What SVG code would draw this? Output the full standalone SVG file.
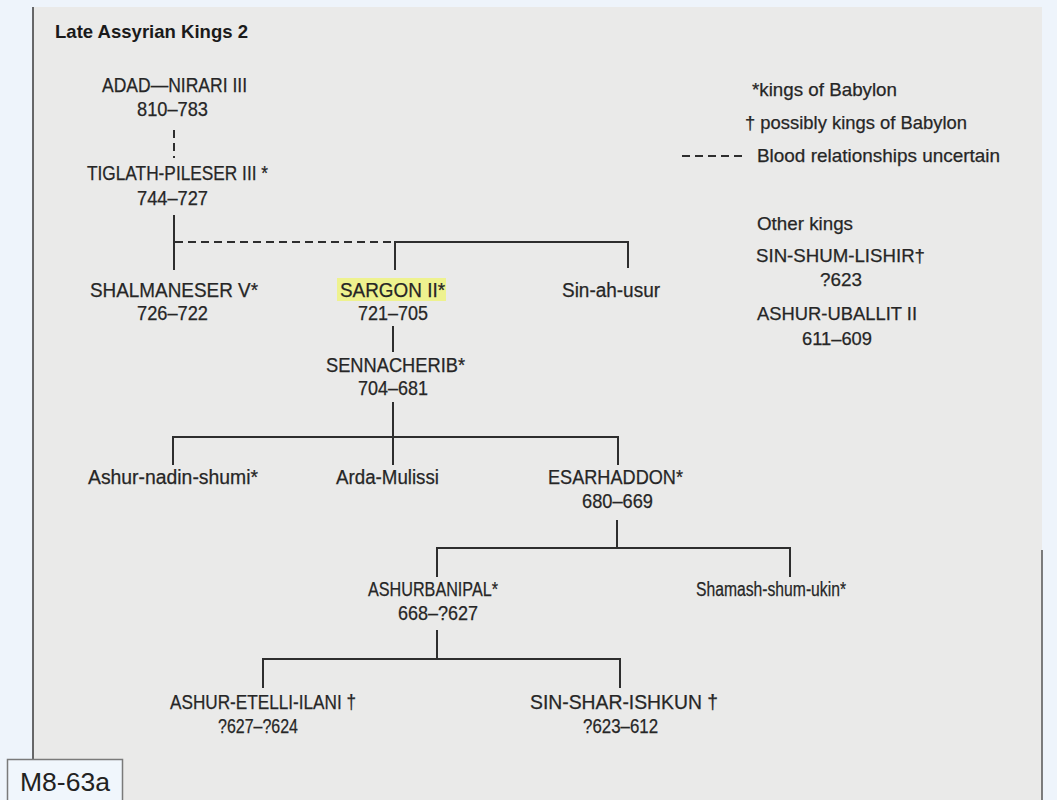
<svg xmlns="http://www.w3.org/2000/svg" width="1057" height="800" viewBox="0 0 1057 800">
  <style>
    .t { font-family: "Liberation Sans", Arial, sans-serif; font-size: 20px; fill: #262626; stroke: #262626; stroke-width: 0.25; }
    .lg { font-family: "Liberation Sans", Arial, sans-serif; font-size: 19px; fill: #262626; stroke: #262626; stroke-width: 0.25; }
    .title { font-family: "Liberation Sans", Arial, sans-serif; font-size: 19px; font-weight: bold; fill: #1a1a1a; }
    .ln { stroke: #2e2e2e; stroke-width: 2; fill: none; }
    .dash { stroke: #2e2e2e; stroke-width: 2; fill: none; stroke-dasharray: 8 5; }
  </style>
  <!-- background -->
  <rect x="0" y="0" width="1057" height="800" fill="#eef4fb"/>
  <rect x="33" y="7" width="1009" height="793" fill="#eaeae9"/>
  <line x1="33" y1="7" x2="33" y2="800" stroke="#3a3a3a" stroke-width="1.5"/>
  <line x1="1042" y1="550" x2="1042" y2="800" stroke="#555" stroke-width="1.5"/>

  <text class="title" x="55" y="38" textLength="193" lengthAdjust="spacingAndGlyphs">Late Assyrian Kings 2</text>

  <!-- connectors -->
  <g id="connectors">
    <line class="dash" x1="174" y1="130" x2="174" y2="158" stroke-dasharray="5 4"/>
    <line class="ln" x1="174" y1="215" x2="174" y2="270"/>
    <line class="dash" x1="175" y1="242" x2="395" y2="242"/>
    <polyline class="ln" points="395,270 395,242 628,242 628,268"/>
    <line class="ln" x1="393" y1="326" x2="393" y2="352"/>
    <line class="ln" x1="393" y1="402" x2="393" y2="465"/>
    <polyline class="ln" points="173,465 173,437 618,437 618,465"/>
    <line class="ln" x1="617" y1="520" x2="617" y2="548"/>
    <polyline class="ln" points="437,577 437,548 790,548 790,577"/>
    <line class="ln" x1="437" y1="630" x2="437" y2="659"/>
    <polyline class="ln" points="263,688 263,659 620,659 620,688"/>
  </g>

  <g id="adad-nirari">
    <text class="t" x="102" y="92" textLength="145" lengthAdjust="spacingAndGlyphs">ADAD—NIRARI III</text>
    <text class="t" x="137" y="116" textLength="71" lengthAdjust="spacingAndGlyphs">810–783</text>
  </g>
  <g id="tiglath-pileser">
    <text class="t" x="87" y="180" textLength="181" lengthAdjust="spacingAndGlyphs">TIGLATH-PILESER III *</text>
    <text class="t" x="137" y="205" textLength="71" lengthAdjust="spacingAndGlyphs">744–727</text>
  </g>
  <g id="shalmaneser">
    <text class="t" x="90" y="297" textLength="168" lengthAdjust="spacingAndGlyphs">SHALMANESER V*</text>
    <text class="t" x="137" y="320" textLength="71" lengthAdjust="spacingAndGlyphs">726–722</text>
  </g>
  <g id="sargon">
    <rect x="337" y="278" width="109" height="23" fill="#eef28f"/>
    <text class="t" x="340" y="297" textLength="105" lengthAdjust="spacingAndGlyphs">SARGON II*</text>
    <text class="t" x="358" y="320" textLength="70" lengthAdjust="spacingAndGlyphs">721–705</text>
  </g>
  <g id="sin-ah-usur">
    <text class="t" x="562" y="297" textLength="98" lengthAdjust="spacingAndGlyphs">Sin-ah-usur</text>
  </g>
  <g id="sennacherib">
    <text class="t" x="326" y="372" textLength="139" lengthAdjust="spacingAndGlyphs">SENNACHERIB*</text>
    <text class="t" x="358" y="395" textLength="70" lengthAdjust="spacingAndGlyphs">704–681</text>
  </g>
  <g id="ashur-nadin-shumi">
    <text class="t" x="88" y="484" textLength="170" lengthAdjust="spacingAndGlyphs">Ashur-nadin-shumi*</text>
  </g>
  <g id="arda-mulissi">
    <text class="t" x="336" y="484" textLength="103" lengthAdjust="spacingAndGlyphs">Arda-Mulissi</text>
  </g>
  <g id="esarhaddon">
    <text class="t" x="548" y="484" textLength="135" lengthAdjust="spacingAndGlyphs">ESARHADDON*</text>
    <text class="t" x="582" y="508" textLength="71" lengthAdjust="spacingAndGlyphs">680–669</text>
  </g>
  <g id="ashurbanipal">
    <text class="t" x="368" y="596" textLength="130" lengthAdjust="spacingAndGlyphs">ASHURBANIPAL*</text>
    <text class="t" x="398" y="620" textLength="80" lengthAdjust="spacingAndGlyphs">668–?627</text>
  </g>
  <g id="shamash-shum-ukin">
    <text class="t" x="696" y="596" textLength="150" lengthAdjust="spacingAndGlyphs">Shamash-shum-ukin*</text>
  </g>
  <g id="ashur-etelli-ilani">
    <text class="t" x="170" y="709" textLength="186" lengthAdjust="spacingAndGlyphs">ASHUR-ETELLI-ILANI †</text>
    <text class="t" x="218" y="733" textLength="80" lengthAdjust="spacingAndGlyphs">?627–?624</text>
  </g>
  <g id="sin-shar-ishkun">
    <text class="t" x="530" y="709" textLength="188" lengthAdjust="spacingAndGlyphs">SIN-SHAR-ISHKUN †</text>
    <text class="t" x="583" y="733" textLength="75" lengthAdjust="spacingAndGlyphs">?623–612</text>
  </g>

  <!-- legend -->
  <g id="legend">
    <text class="lg" x="752" y="96" textLength="145" lengthAdjust="spacingAndGlyphs">*kings of Babylon</text>
    <text class="lg" x="745" y="129" textLength="222" lengthAdjust="spacingAndGlyphs">† possibly kings of Babylon</text>
    <line class="dash" x1="682" y1="156" x2="747" y2="156" stroke-dasharray="9 5"/>
    <text class="lg" x="757" y="162" textLength="243" lengthAdjust="spacingAndGlyphs">Blood relationships uncertain</text>
  </g>
  <g id="other-kings">
    <text class="lg" x="757" y="230" textLength="96" lengthAdjust="spacingAndGlyphs">Other kings</text>
    <text class="lg" x="756" y="262" textLength="169" lengthAdjust="spacingAndGlyphs">SIN-SHUM-LISHIR†</text>
    <text class="lg" x="820" y="286" textLength="42" lengthAdjust="spacingAndGlyphs">?623</text>
    <text class="lg" x="757" y="320" textLength="160" lengthAdjust="spacingAndGlyphs">ASHUR-UBALLIT II</text>
    <text class="lg" x="802" y="345" textLength="70" lengthAdjust="spacingAndGlyphs">611–609</text>
  </g>

  <g id="label">
    <rect x="7.5" y="759.5" width="115" height="45" fill="#f0f6fc" stroke="#7a7a7a" stroke-width="1.5"/>
    <text x="20" y="791" font-family="Liberation Sans, Arial, sans-serif" font-size="26" fill="#222" textLength="90" lengthAdjust="spacingAndGlyphs">M8-63a</text>
  </g>
</svg>
